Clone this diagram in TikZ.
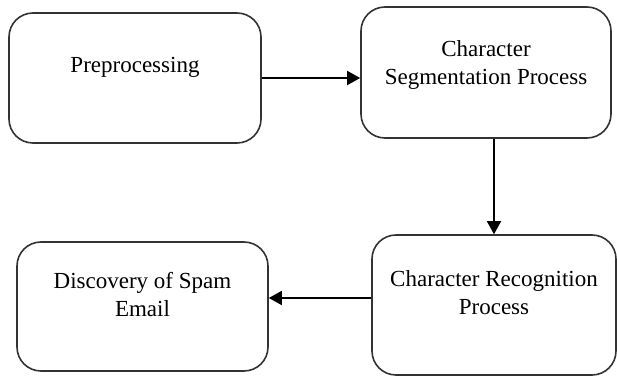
\documentclass[tikz,border=0pt]{standalone}
\usepackage{fontspec}
\setmainfont{Liberation Serif}
\usetikzlibrary{arrows.meta}

\begin{document}
\begin{tikzpicture}[x=0.5pt, y=-0.5pt,
		stage/.style={draw=black!80, line width=0.8pt, rounded corners=12pt, inner sep=0pt},
		stagetext/.style={align=center, font=\fontsize{11.5}{14}\selectfont},
		flow/.style={-{Triangle[length=6.5pt, width=7pt]}, line width=0.8pt}]
		\useasboundingbox (0, 0) rectangle (617, 379);

		\node[stage, minimum width=126pt, minimum height=65pt] (pre) at (135, 78) {};
		\node[stage, minimum width=125pt, minimum height=65.5pt] (seg) at (486, 72.5) {};
		\node[stage, minimum width=122pt, minimum height=70pt] (rec) at (494, 305) {};
		\node[stage, minimum width=125.5pt, minimum height=64.5pt] (disc) at (142.5, 306.5) {};

		\node[stagetext] (preT) at (135, 67) {Preprocessing};
		\node[stagetext] (segT) at (486, 65) {Character\\Segmentation Process};
		\node[stagetext] (recT) at (494, 293) {Character Recognition\\Process};
		\node[stagetext] (discT) at (142.5, 295) {Discovery of Spam\\Email};

		\draw[flow] (pre.east) -- (pre.east -| seg.west);
		\draw[flow] (seg.south -| rec.north) -- (rec.north);
		\draw[flow] ([yshift=3.5pt]rec.west) -- ([yshift=3.5pt]rec.west -| disc.east);
	\end{tikzpicture}
\end{document}
